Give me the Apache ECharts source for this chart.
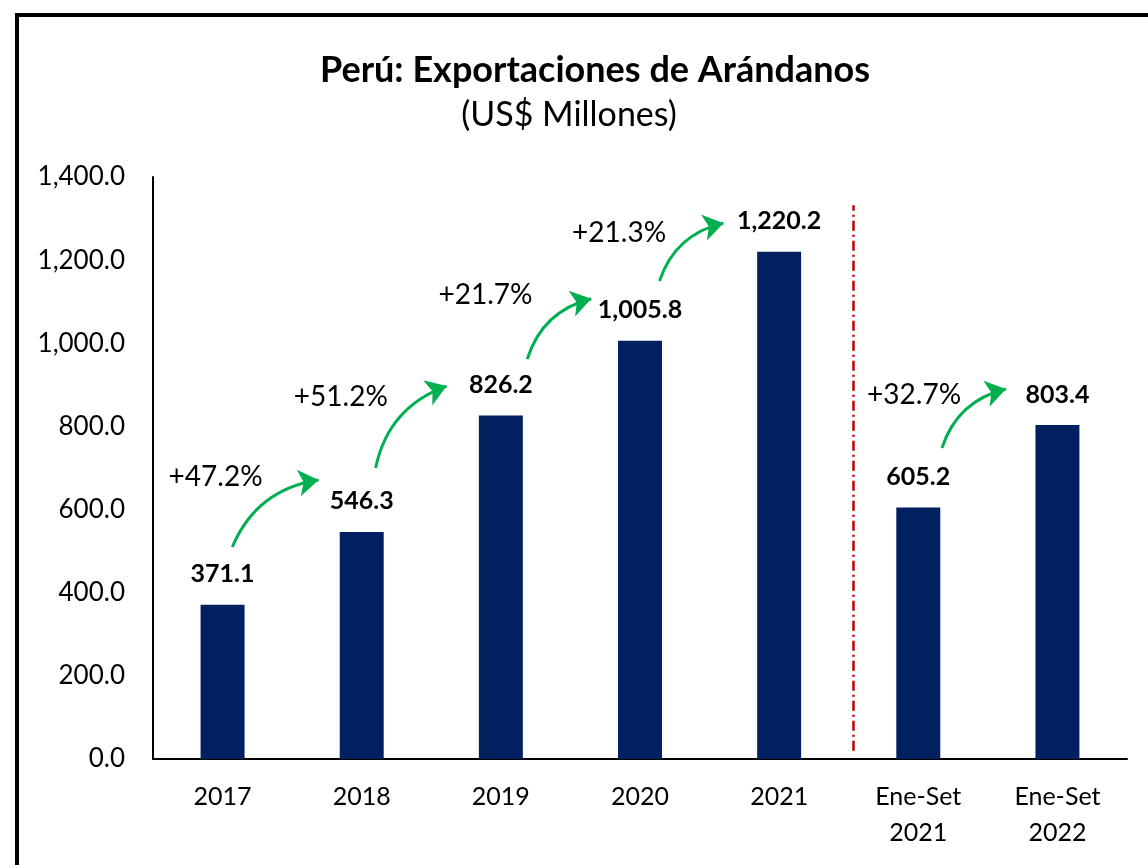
<!DOCTYPE html>
<html>
<head>
<meta charset="utf-8">
<script src="https://cdn.jsdelivr.net/npm/echarts@6/dist/echarts.min.js"></script>
<style>
  html, body { margin: 0; padding: 0; background: #fff; }
  #chart { width: 1148px; height: 865px; }
</style>
</head>
<body>
<div id="chart"></div>
<script>
// categories and values (US$ millones)
const categories = ['2017', '2018', '2019', '2020', '2021', 'Ene-Set\n2021', 'Ene-Set\n2022']
const exportValues = [371.1, 546.3, 826.2, 1005.8, 1220.2, 605.2, 803.4]
const yTicks = [0, 200, 400, 600, 800, 1000, 1200, 1400]

// growth annotations: text + position in data space (x = category index)
const growthLabels = ['+47.2%', '+51.2%', '+21.7%', '+21.3%', '+32.7%']
const growthLabelPos = [[-0.05, 678], [0.85, 871], [1.89, 1116], [2.85, 1265], [4.97, 876]]
// green arrows: [start, end] in data space
const arrowPaths = [
  [[0.07, 510], [0.69, 671]],
  [[1.10, 700], [1.61, 897]],
  [[2.19, 962], [2.65, 1107]],
  [[3.14, 1150], [3.60, 1289]],
  [[5.17, 748], [5.63, 890]]
]
// red separator between annual and Ene-Set
const separatorLine = [[4.53, 20], [4.53, 1332]]

const fmt = v => v.toLocaleString('en-US', { minimumFractionDigits: 1, maximumFractionDigits: 1 })
const FONT = 'Lato'

const chart = echarts.init(document.getElementById('chart'))

const option = {
  backgroundColor: '#fff',
  animation: false,
  textStyle: { fontFamily: FONT },
  title: [
    {
      text: 'Perú: Exportaciones de Arándanos',
      left: 590,
      textAlign: 'center',
      top: 45,
      textStyle: { fontFamily: FONT, fontSize: 36, fontWeight: 'bold', color: '#000', lineHeight: 40 }
    },
    {
      text: '(US$ Millones)',
      left: 564,
      textAlign: 'center',
      top: 90,
      textStyle: { fontFamily: FONT, fontSize: 34, fontWeight: 'normal', color: '#000', lineHeight: 40 }
    }
  ],
  graphic: [
    {
      type: 'rect',
      z: -1,
      shape: { x: 17, y: 15, width: 1200, height: 900 },
      style: { fill: 'none', stroke: '#000', lineWidth: 4 }
    }
  ],
  grid: { left: 153, right: 21, top: 177, bottom: 106 },
  xAxis: [
    {
      type: 'category',
      data: categories,
      axisLine: { lineStyle: { color: '#000', width: 2 } },
      axisTick: { show: false },
      axisLabel: { color: '#000', fontSize: 25, lineHeight: 36, margin: 20, fontFamily: FONT }
    },
    {
      type: 'value',
      min: -0.5,
      max: 6.5,
      show: false
    }
  ],
  yAxis: {
    type: 'value',
    min: 0,
    max: 1400,
    interval: 200,
    axisLine: { show: true, onZero: false, lineStyle: { color: '#000', width: 2 } },
    axisTick: { show: false },
    splitLine: { show: false },
    axisLabel: {
      color: '#000',
      fontSize: 26,
      margin: 28,
      fontFamily: FONT,
      formatter: v => yTicks.includes(v) ? fmt(v) : ''
    }
  },
  series: [
    {
      type: 'bar',
      data: exportValues,
      barWidth: '31.6%',
      itemStyle: { color: '#002060' },
      label: {
        show: true,
        position: 'top',
        distance: 18,
        color: '#000',
        fontSize: 25,
        fontWeight: 'bold',
        fontFamily: FONT,
        formatter: p => fmt(p.value)
      }
    },
    {
      type: 'lines',
      coordinateSystem: 'cartesian2d',
      xAxisIndex: 1,
      yAxisIndex: 0,
      symbol: ['none', 'arrow'],
      symbolSize: 20,
      lineStyle: { color: '#00b050', width: 3, curveness: 0.28, opacity: 1 },
      data: arrowPaths.map(p => ({ coords: p }))
    },
    {
      type: 'lines',
      coordinateSystem: 'cartesian2d',
      xAxisIndex: 1,
      yAxisIndex: 0,
      symbol: 'none',
      lineStyle: { color: '#c00000', width: 2.5, type: [10, 4, 2, 4], opacity: 1 },
      data: [{ coords: separatorLine }]
    },
    {
      type: 'scatter',
      xAxisIndex: 1,
      yAxisIndex: 0,
      symbolSize: 0,
      itemStyle: { opacity: 1 },
      data: growthLabelPos.map((p, i) => ({ value: p, name: growthLabels[i] })),
      label: {
        show: true,
        position: 'inside',
        color: '#000',
        opacity: 1,
        fontSize: 28,
        fontFamily: FONT,
        formatter: p => p.name
      }
    }
  ]
}

chart.setOption(option)
window.addEventListener('resize', () => chart.resize())
</script>
</body>
</html>
